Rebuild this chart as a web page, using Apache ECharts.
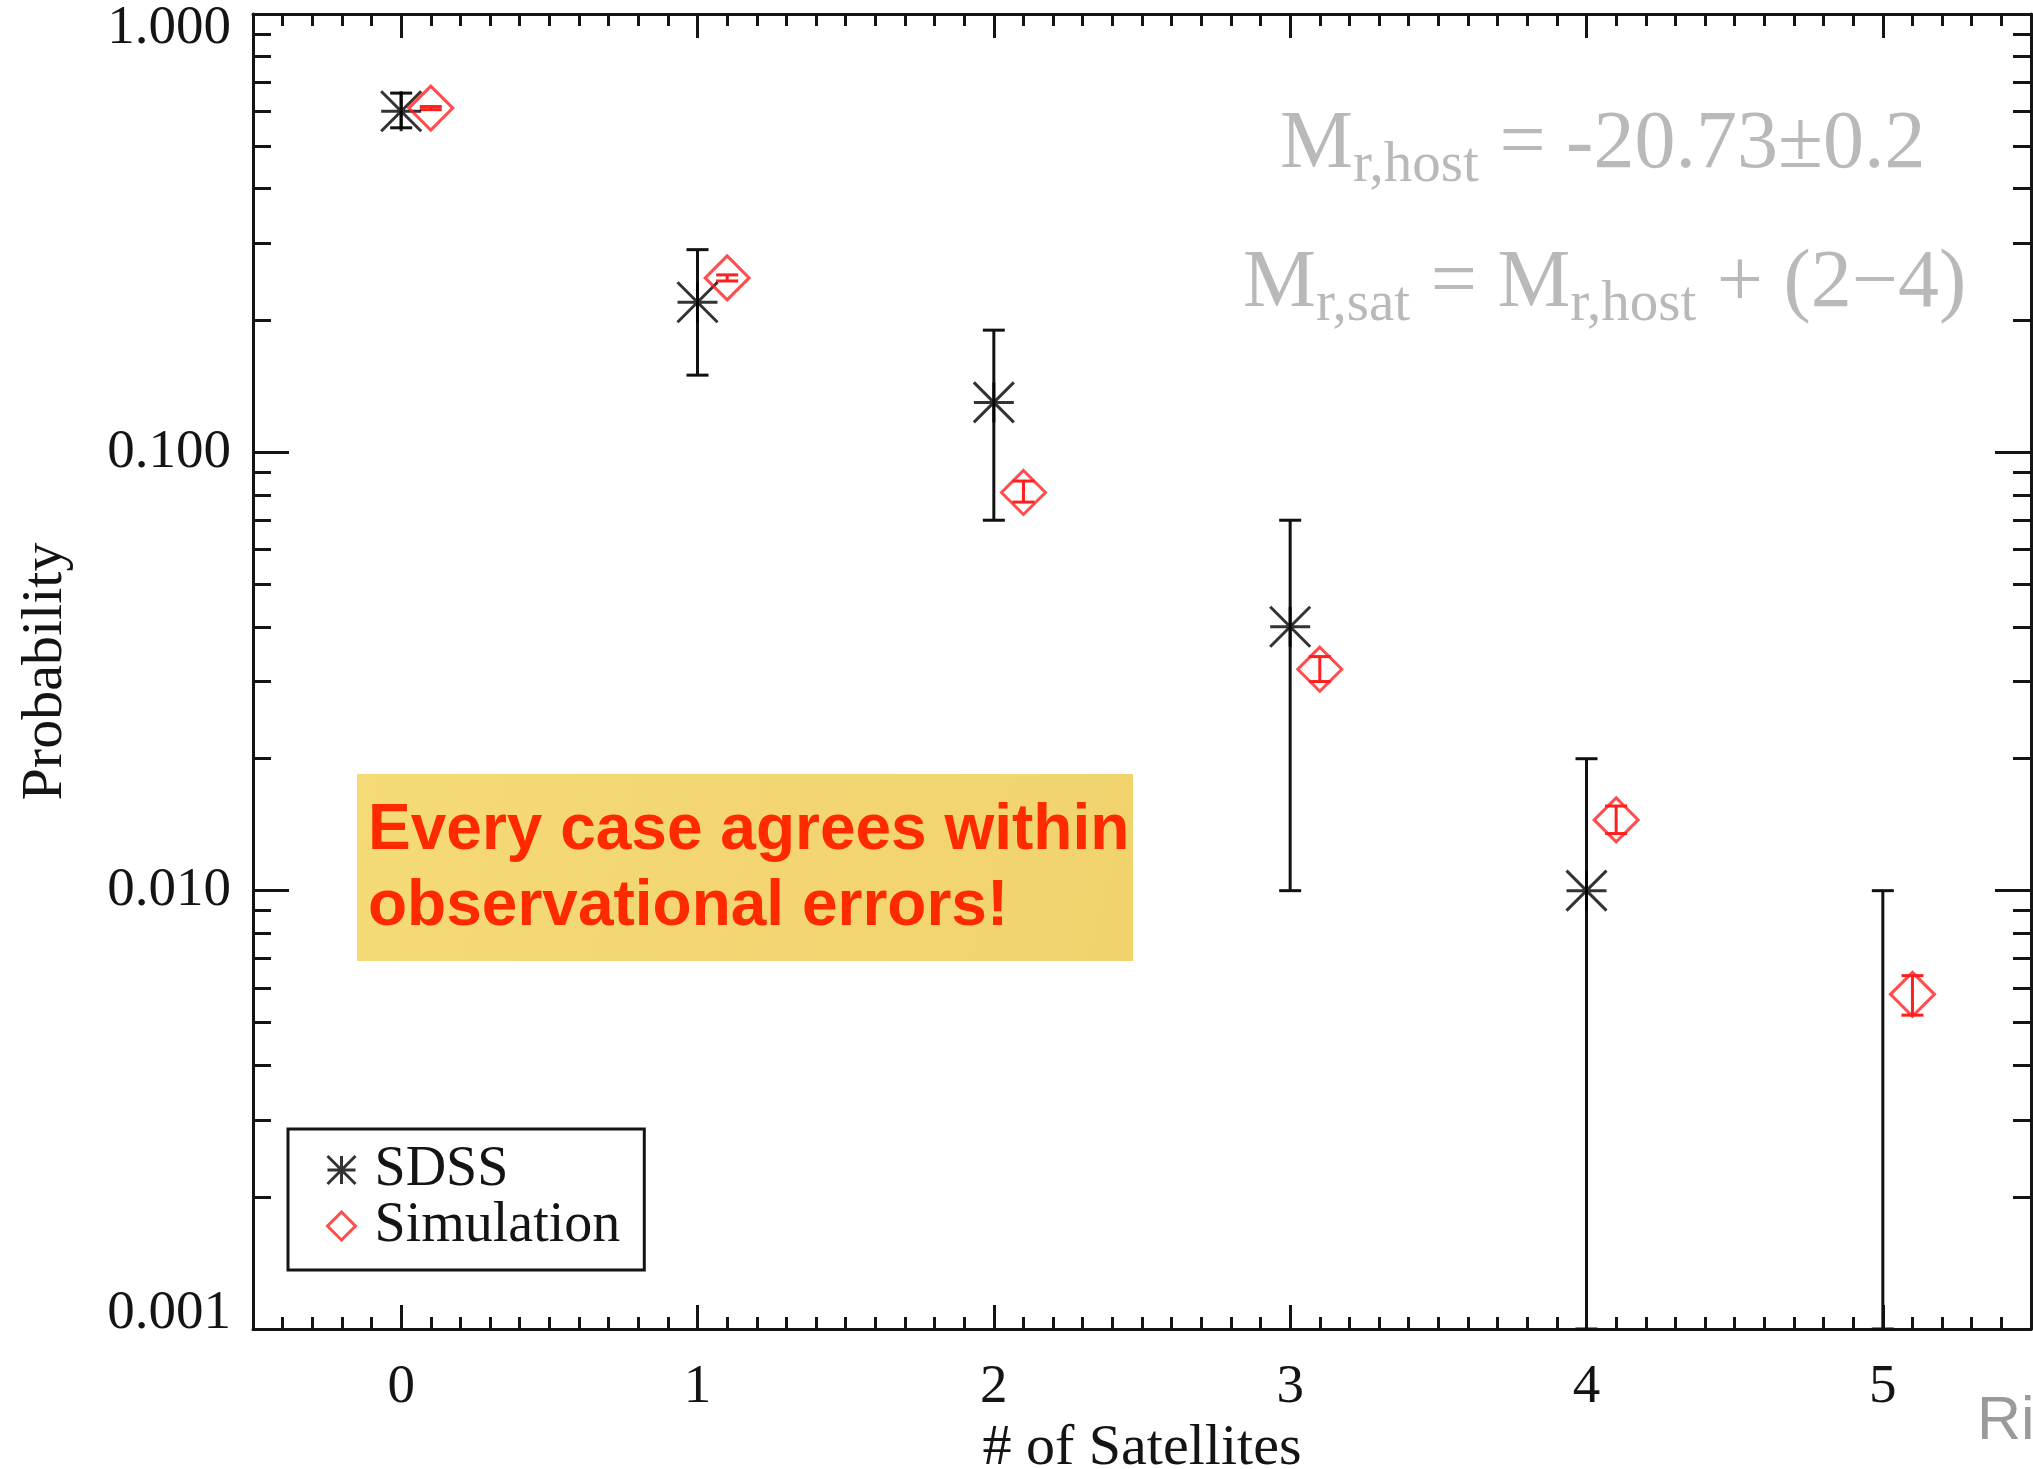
<!DOCTYPE html>
<html>
<head>
<meta charset="utf-8">
<script src="https://cdn.jsdelivr.net/npm/echarts@6/dist/echarts.min.js"></script>
<style>
  html, body { margin: 0; padding: 0; background: #ffffff; }
  #chart { width: 2033px; height: 1469px; }
</style>
</head>
<body>
<div id="chart"></div>
<script>
// Probability of a host galaxy having N bright satellites: SDSS vs. simulation
const satelliteCounts = [0, 1, 2, 3, 4, 5];

// SDSS hosts (null: no host with that many satellites, only an upper limit)
const sdssProb = [0.60, 0.22, 0.13, 0.040, 0.010, null];
const sdssLow  = [0.55, 0.15, 0.070, 0.010, 0.001, 0.001];
const sdssHigh = [0.66, 0.29, 0.19, 0.070, 0.020, 0.010];

// Simulated hosts, plotted just right of each count
const simOffset = 0.1;
const simProb = [0.61, 0.25, 0.081, 0.032, 0.0145, 0.0058];
const simLow  = [0.605, 0.246, 0.077, 0.030, 0.0135, 0.0052];
const simHigh = [0.615, 0.254, 0.086, 0.0342, 0.0156, 0.0064];

// Axis ticks
const probTickValues = [0.001, 0.01, 0.1, 1];
const probTickLabels = ['0.001', '0.010', '0.100', '1.000'];
const countTickLabels = ['0', '1', '2', '3', '4', '5'];
const probMinorTicks = [];
[0.001, 0.01, 0.1].forEach(function (decade) {
  for (let m = 2; m <= 9; m++) probMinorTicks.push(+(m * decade).toPrecision(2));
});

const serif = '"Liberation Serif", "Times New Roman", serif';
const sans = '"Liberation Sans", Arial, Helvetica, sans-serif';
const ink = '#141414';
const axisLine = { show: true, onZero: false, lineStyle: { color: ink, width: 3 } };
const noLine = { show: false, onZero: false };
const tickStyle = { color: ink, width: 3 };

// asterisk marker: horizontal, vertical and both diagonals
const asteriskPath = 'path://M0 0L20 20M20 0L0 20M0 10L20 10M10 0L10 20';

// decade labels; the two end labels sit inside the frame
function probLabel(v) {
  const i = probTickValues.findIndex(function (t) {
    return Math.abs(Math.log10(t) - Math.log10(v)) < 1e-6;
  });
  if (i < 0) return '';
  if (i === 0 || i === probTickValues.length - 1) return '{end|' + probTickLabels[i] + '}';
  return probTickLabels[i];
}

// vertical error bar with end caps, drawn through the axes' scales
function errorBars(color, capHalf) {
  return function (params, api) {
    const x = api.value(0);
    const lo = api.coord([x, api.value(1)]);
    const hi = api.coord([x, api.value(2)]);
    const st = { stroke: color, lineWidth: 3 };
    return {
      type: 'group',
      children: [
        { type: 'line', shape: { x1: lo[0], y1: lo[1], x2: hi[0], y2: hi[1] }, style: st },
        { type: 'line', shape: { x1: lo[0] - capHalf, y1: lo[1], x2: lo[0] + capHalf, y2: lo[1] }, style: st },
        { type: 'line', shape: { x1: hi[0] - capHalf, y1: hi[1], x2: hi[0] + capHalf, y2: hi[1] }, style: st }
      ]
    };
  };
}

const xBase = { type: 'value', min: -0.5, max: 5.5, splitLine: { show: false } };
const yBase = { type: 'log', logBase: 10, min: 0.001, max: 1, splitLine: { show: false } };

const chart = echarts.init(document.getElementById('chart'), null, { renderer: 'canvas' });

const grayRich = {
  m: { fontSize: 82, lineHeight: 100, fontFamily: serif, fill: '#b9b9b9' },
  s: { fontSize: 57, lineHeight: 67, verticalAlign: 'bottom', fontFamily: serif, fill: '#b9b9b9' }
};

chart.setOption({
  animation: false,
  backgroundColor: '#ffffff',
  grid: { left: 253, right: 2, top: 14, bottom: 140, containLabel: false, outerBoundsMode: 'none' },
  xAxis: [
    Object.assign({}, xBase, {
      position: 'bottom',
      axisLine: axisLine,
      axisTick: { inside: true, length: 24, customValues: satelliteCounts, lineStyle: tickStyle },
      axisLabel: {
        customValues: satelliteCounts,
        formatter: function (v) { return countTickLabels[satelliteCounts.indexOf(Math.round(v))]; },
        margin: 31, fontSize: 55, fontFamily: serif, color: ink
      },
      name: '# of Satellites',
      nameLocation: 'middle',
      nameGap: 83,
      nameTextStyle: { fontSize: 58, fontFamily: serif, color: ink }
    }),
    Object.assign({}, xBase, {
      position: 'bottom', interval: 0.1,
      axisLine: noLine,
      axisTick: { inside: true, length: 12, lineStyle: tickStyle },
      axisLabel: { show: false }
    }),
    Object.assign({}, xBase, {
      position: 'top',
      axisLine: axisLine,
      axisTick: { inside: true, length: 24, customValues: satelliteCounts, lineStyle: tickStyle },
      axisLabel: { show: false }
    }),
    Object.assign({}, xBase, {
      position: 'top', interval: 0.1,
      axisLine: noLine,
      axisTick: { inside: true, length: 12, lineStyle: tickStyle },
      axisLabel: { show: false }
    })
  ],
  yAxis: [
    Object.assign({}, yBase, {
      position: 'left',
      axisLine: axisLine,
      axisTick: { inside: true, length: 36, lineStyle: tickStyle },
      axisLabel: {
        formatter: probLabel,
        margin: 22, fontSize: 55, fontFamily: serif, color: ink,
        verticalAlignMaxLabel: 'top', verticalAlignMinLabel: 'bottom',
        rich: { end: { fontSize: 55, fontFamily: serif, color: ink, lineHeight: 30 } }
      },
      name: 'Probability',
      nameLocation: 'middle',
      nameGap: 178,
      nameTextStyle: { fontSize: 58, fontFamily: serif, color: ink }
    }),
    Object.assign({}, yBase, {
      position: 'left',
      axisLine: noLine,
      axisTick: { inside: true, length: 18, customValues: probMinorTicks, lineStyle: tickStyle },
      axisLabel: { show: false }
    }),
    Object.assign({}, yBase, {
      position: 'right',
      axisLine: axisLine,
      axisTick: { inside: true, length: 36, lineStyle: tickStyle },
      axisLabel: { show: false }
    }),
    Object.assign({}, yBase, {
      position: 'right',
      axisLine: noLine,
      axisTick: { inside: true, length: 18, customValues: probMinorTicks, lineStyle: tickStyle },
      axisLabel: { show: false }
    })
  ],
  legend: {
    data: ['SDSS', 'Simulation'],
    orient: 'vertical',
    left: 288, top: 1129,
    padding: [13, 24, 16, 38],
    itemGap: 0,
    itemWidth: 28, itemHeight: 28,
    borderColor: ink, borderWidth: 3,
    backgroundColor: '#ffffff',
    selectedMode: false,
    itemStyle: { borderWidth: 3 },
    textStyle: { fontFamily: serif, fontSize: 56, color: ink, lineHeight: 56, padding: [0, 0, 0, 14] }
  },
  series: [
    {
      type: 'custom', name: 'SDSS range',
      xAxisIndex: 0, yAxisIndex: 0,
      renderItem: errorBars('#111111', 11),
      encode: { x: 0, y: [1, 2] },
      data: satelliteCounts.map(function (c, i) { return [c, sdssLow[i], sdssHigh[i]]; }),
      silent: true, z: 2
    },
    {
      type: 'scatter', name: 'SDSS',
      xAxisIndex: 0, yAxisIndex: 0,
      symbol: asteriskPath, symbolSize: 40,
      itemStyle: { color: 'rgba(0,0,0,0)', borderColor: '#000000', borderWidth: 3 },
      data: satelliteCounts
        .map(function (c, i) { return [c, sdssProb[i]]; })
        .filter(function (d) { return d[1] !== null; }),
      z: 3
    },
    {
      type: 'custom', name: 'Simulation range',
      xAxisIndex: 0, yAxisIndex: 0,
      renderItem: errorBars('#ff1f1f', 11),
      encode: { x: 0, y: [1, 2] },
      data: satelliteCounts.map(function (c, i) { return [c + simOffset, simLow[i], simHigh[i]]; }),
      silent: true, z: 2
    },
    {
      type: 'scatter', name: 'Simulation',
      xAxisIndex: 0, yAxisIndex: 0,
      symbol: 'diamond', symbolSize: 44,
      itemStyle: { color: 'rgba(0,0,0,0)', borderColor: '#ff1f1f', borderWidth: 3 },
      data: satelliteCounts.map(function (c, i) { return [c + simOffset, simProb[i]]; }),
      z: 3
    }
  ],
  graphic: [
    {
      type: 'rect', z: 10,
      shape: { x: 357, y: 774, width: 776, height: 187 },
      style: {
        fill: {
          type: 'linear', x: 0, y: 0, x2: 1, y2: 1,
          colorStops: [
            { offset: 0, color: '#f5da78' },
            { offset: 0.5, color: '#f3d673' },
            { offset: 1, color: '#f1d36e' }
          ]
        }
      }
    },
    {
      type: 'text', z: 11, x: 368, y: 793,
      style: {
        text: 'Every case agrees within\nobservational errors!',
        fontFamily: sans, fontWeight: 'bold', fontSize: 64, lineHeight: 76,
        fill: '#ff2a00'
      }
    },
    {
      type: 'text', z: 11, x: 1280, y: 95,
      style: { text: '{m|M}{s|r,host}{m| = -20.73±0.2}', rich: grayRich, fontFamily: serif, fill: '#b9b9b9' }
    },
    {
      type: 'text', z: 11, x: 1243, y: 234,
      style: { text: '{m|M}{s|r,sat}{m| = M}{s|r,host}{m| + (2−4)}', rich: grayRich, fontFamily: serif, fill: '#b9b9b9' }
    },
    {
      type: 'text', z: 11, x: 1977, y: 1392,
      style: { text: 'Ri', fontFamily: sans, fontSize: 61, fill: '#9a9a9a' }
    }
  ]
});
</script>
</body>
</html>
